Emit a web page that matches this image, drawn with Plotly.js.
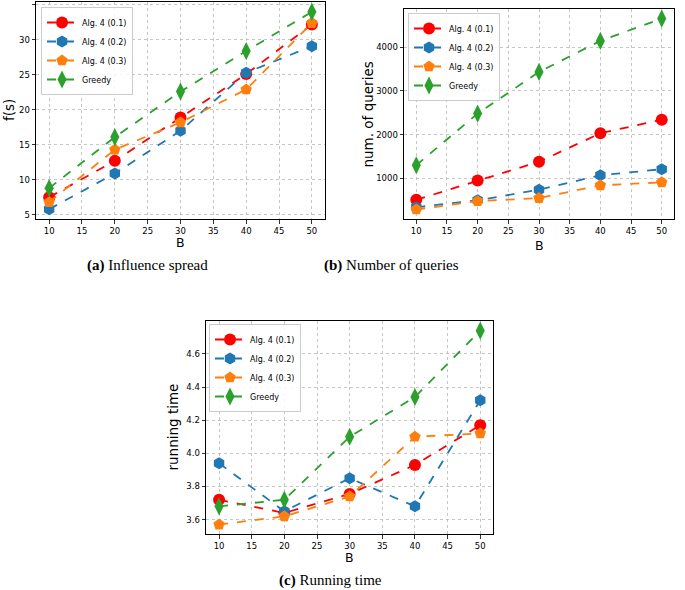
<!DOCTYPE html>
<html>
<head>
<meta charset="utf-8">
<script src="https://cdn.plot.ly/plotly-3.0.1.min.js"></script>
<style>html,body{margin:0;padding:0;background:#fff}#plot{width:685px;height:590px}</style>
</head>
<body>
<div id="plot"></div>
<script>
// ---- data ----
const B = [10, 20, 30, 40, 50];
const seriesNames = ["Alg. 4 (0.1)", "Alg. 4 (0.2)", "Alg. 4 (0.3)", "Greedy"];

const spreadAlg01 = [7.5, 12.7, 18.9, 25.1, 32.2];
const spreadAlg02 = [5.8, 10.9, 17.0, 25.3, 29.1];
const spreadAlg03 = [6.8, 14.3, 18.2, 22.9, 32.4];
const spreadGreedy = [8.8, 16.1, 22.6, 28.4, 34.0];

const queriesAlg01 = [510, 950, 1380, 2030, 2340];
const queriesAlg02 = [340, 500, 740, 1070, 1210];
const queriesAlg03 = [290, 480, 550, 840, 910];
const queriesGreedy = [1300, 2480, 3430, 4140, 4650];

const timeAlg01 = [3.72, 3.64, 3.755, 3.93, 4.17];
const timeAlg02 = [3.94, 3.65, 3.85, 3.68, 4.32];
const timeAlg03 = [3.57, 3.62, 3.74, 4.10, 4.12];
const timeGreedy = [3.68, 3.72, 4.10, 4.34, 4.74];

const xTicks = [10, 15, 20, 25, 30, 35, 40, 45, 50];
const spreadTicks = [5, 10, 15, 20, 25, 30, 35];
const queriesTicks = [1000, 2000, 3000, 4000];
const timeTicks = [3.6, 3.8, 4.0, 4.2, 4.4, 4.6];

const panelTitles = ["<b>(a)</b> Influence spread", "<b>(b)</b> Number of queries", "<b>(c)</b> Running time"];
const yTitles = ["f(s)", "num. of queries", "running time"];

// ---- styles ----
const colors = ["#ff0000", "#1f77b4", "#ff7f0e", "#2ca02c"];
const symbols = ["circle", "hexagon", "pentagon", "diamond-tall"];
const sizes = [12, 12, 12, 13];

function makeTraces(ys, xa, ya, legendId) {
  return ys.map((y, i) => ({
    x: B, y: y, type: "scatter", mode: "lines+markers",
    name: seriesNames[i], xaxis: xa, yaxis: ya, legend: legendId,
    line: {color: colors[i], dash: "dash", width: 1.8},
    marker: {color: colors[i], symbol: symbols[i], size: sizes[i], line: {width: 0}}
  }));
}

const data = [].concat(
  makeTraces([spreadAlg01, spreadAlg02, spreadAlg03, spreadGreedy], "x", "y", "legend"),
  makeTraces([queriesAlg01, queriesAlg02, queriesAlg03, queriesGreedy], "x2", "y2", "legend2"),
  makeTraces([timeAlg01, timeAlg02, timeAlg03, timeGreedy], "x3", "y3", "legend3")
);

const W = 685, H = 590;
const px = v => v / W;
const py = v => 1 - v / H;

const axBase = {
  showline: true, mirror: true, linecolor: "#000", linewidth: 1,
  ticks: "outside", ticklen: 3.5, tickcolor: "#000", tickwidth: 0.8,
  showgrid: true, gridcolor: "#b8b8b8", griddash: "dot", gridwidth: 0.8,
  zeroline: false, tickfont: {family: "DejaVu Sans", size: 8.5, color: "#000"}
};
function ax(extra) { return Object.assign({}, axBase, extra); }

const legBase = {
  bgcolor: "rgba(255,255,255,0.85)", bordercolor: "#cccccc", borderwidth: 1,
  font: {family: "DejaVu Sans", size: 8, color: "#000"},
  xanchor: "left", yanchor: "top", tracegroupgap: 0
};

const annFont = {family: "DejaVu Sans", size: 13.5, color: "#000"};
const bFont = {family: "DejaVu Sans", size: 12.5, color: "#000"};
const capFont = {family: "Liberation Serif", size: 15, color: "#000"};

function ann(text, x, y, font, angle) {
  const a = {text: text, x: px(x), y: py(y), xref: "paper", yref: "paper", showarrow: false,
             font: font, xanchor: "center", yanchor: "middle", borderpad: 0};
  if (angle) a.textangle = angle;
  return a;
}

const layout = {
  width: W, height: H,
  margin: {l: 0, r: 0, t: 0, b: 0},
  paper_bgcolor: "#fff", plot_bgcolor: "#fff",
  showlegend: true,
  xaxis: ax({domain: [px(36), px(325)], anchor: "y", range: [8, 52], tickvals: xTicks}),
  yaxis: ax({domain: [py(219), py(2)], anchor: "x", range: [4.39, 35.41], tickvals: spreadTicks}),
  xaxis2: ax({domain: [px(404), px(674)], anchor: "y2", range: [8, 52], tickvals: xTicks}),
  yaxis2: ax({domain: [py(219), py(9)], anchor: "x2", range: [72, 4868], tickvals: queriesTicks}),
  xaxis3: ax({domain: [px(206), px(493.3)], anchor: "y3", range: [8, 52], tickvals: xTicks}),
  yaxis3: ax({domain: [py(534.3), py(321)], anchor: "x3", range: [3.5115, 4.7985], tickvals: timeTicks, tickformat: ".1f"}),
  legend: Object.assign({}, legBase, {x: px(41), y: py(7)}),
  legend2: Object.assign({}, legBase, {x: px(408), y: py(13)}),
  legend3: Object.assign({}, legBase, {x: px(209), y: py(324)}),
  annotations: [
    ann("B", 180.5, 242.5, bFont),
    ann("B", 539, 245, bFont),
    ann("B", 349.5, 557.5, bFont),
    ann(yTitles[0], 9, 110, annFont, -90),
    ann(yTitles[1], 367, 114.5, annFont, -90),
    ann(yTitles[2], 172, 427.5, annFont, -90),
    ann(panelTitles[0], 147, 265, capFont),
    ann(panelTitles[1], 392, 265, capFont),
    ann(panelTitles[2], 330.5, 580, capFont)
  ]
};

Plotly.newPlot("plot", data, layout, {displayModeBar: false, staticPlot: true});
</script>
</body>
</html>
